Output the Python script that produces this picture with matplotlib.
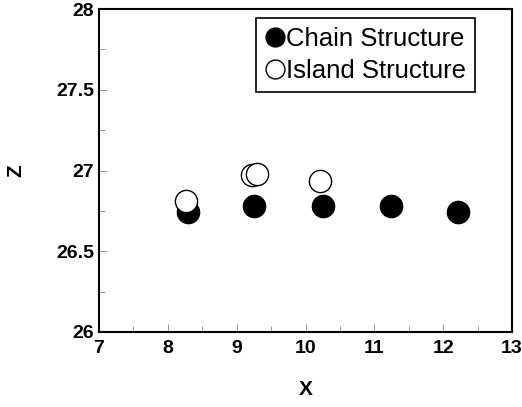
import matplotlib
matplotlib.use('Agg')
import matplotlib.pyplot as plt
from matplotlib.ticker import MultipleLocator

plt.rcParams['font.family'] = ['Liberation Sans', 'DejaVu Sans']

chain_x = [8.30, 9.25, 10.25, 11.24, 12.21]
chain_z = [26.74, 26.78, 26.78, 26.78, 26.745]
island_x = [8.26, 9.23, 9.30, 10.21]
island_z = [26.81, 26.97, 26.98, 26.935]

fig = plt.figure(figsize=(5.22, 4.07), dpi=100)
ax = fig.add_axes([99 / 522, 1 - 332 / 407, 413 / 522, 323 / 407])

ax.plot(chain_x, chain_z, 'o', color='black', markersize=16, label='Chain Structure', zorder=2)
ax.plot(island_x, island_z, 'o', markerfacecolor='white', markeredgecolor='black',
        markeredgewidth=1.0, markersize=16, label='Island Structure', zorder=3)

ax.set_xlim(7, 13)
ax.set_ylim(26, 28)
ax.xaxis.set_major_locator(MultipleLocator(1))
ax.xaxis.set_minor_locator(MultipleLocator(0.5))
ax.yaxis.set_minor_locator(MultipleLocator(0.25))
ax.set_yticks([26, 26.5, 27, 27.5, 28])
ax.set_yticklabels(['26', '26.5', '27', '27.5', '28'])
ax.tick_params(which='both', direction='in', top=False, right=False, width=0.6, color='#888888')
ax.tick_params(which='major', length=6, labelsize=14)
ax.tick_params(which='minor', length=4)
ax.tick_params(axis='x', pad=6)
for lab in ax.get_xticklabels() + ax.get_yticklabels():
    lab.set_fontweight('bold')
for s in ax.spines.values():
    s.set_linewidth(1.5)

ax.set_xlabel('X', fontsize=15, fontweight='bold', labelpad=16)
ax.set_ylabel('Z', fontsize=15, fontweight='bold', labelpad=22)

leg = ax.legend(loc='upper right', bbox_to_anchor=(0.91, 0.972), handlelength=0.75,
                handletextpad=0.05, fontsize=18.5, frameon=True, fancybox=False,
                framealpha=1.0, borderpad=0.35, borderaxespad=0.0, labelspacing=0.3,
                markerscale=0.85)
leg.get_frame().set_edgecolor('black')
leg.get_frame().set_linewidth(1.2)

fig.savefig('out.png', dpi=100)
